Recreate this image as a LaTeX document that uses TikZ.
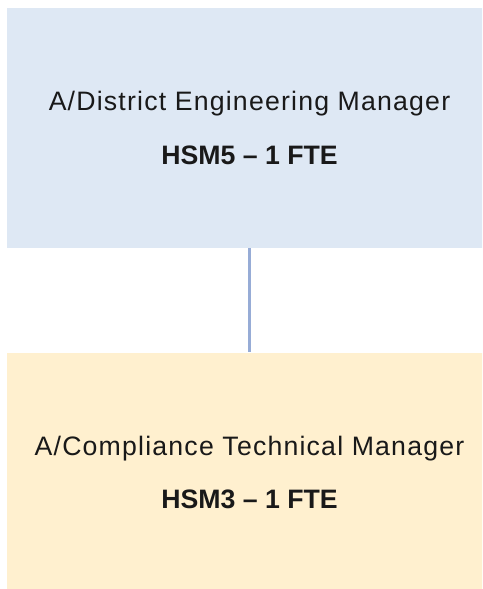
\documentclass[tikz,border=0pt]{standalone}
\usepackage{fontspec}
\setmainfont{Liberation Sans}
\usepackage{xcolor}
\usetikzlibrary{positioning}
\definecolor{boxblue}{HTML}{DEE8F4}
\definecolor{boxgold}{HTML}{FFF0CF}
\definecolor{linkblue}{HTML}{97ACD6}

\begin{document}
\begin{tikzpicture}[
    x=0.75pt, y=-0.75pt,
    node distance=78pt,
    box/.style={minimum width=363.75pt, minimum height=180pt, align=center, inner sep=0pt, font=\fontsize{20}{40}\selectfont, text=black!90},
    link/.style={draw=linkblue, line width=2.4pt}
  ]
    \useasboundingbox (0,0) rectangle (482,589);
    \clip (0,0) rectangle (482,589);
    \node[box, fill=boxblue] (dem) at (249.5,128) {{\addfontfeature{LetterSpace=4.5}A/District Engineering Manager}\\\textbf{HSM5 -- 1 FTE}};
    \node[box, fill=boxgold, below=of dem] (ctm) {{\addfontfeature{LetterSpace=4.5}A/Compliance Technical Manager}\\\textbf{HSM3 -- 1 FTE}};
    \draw[link] (dem) -- (ctm);
  \end{tikzpicture}
\end{document}
